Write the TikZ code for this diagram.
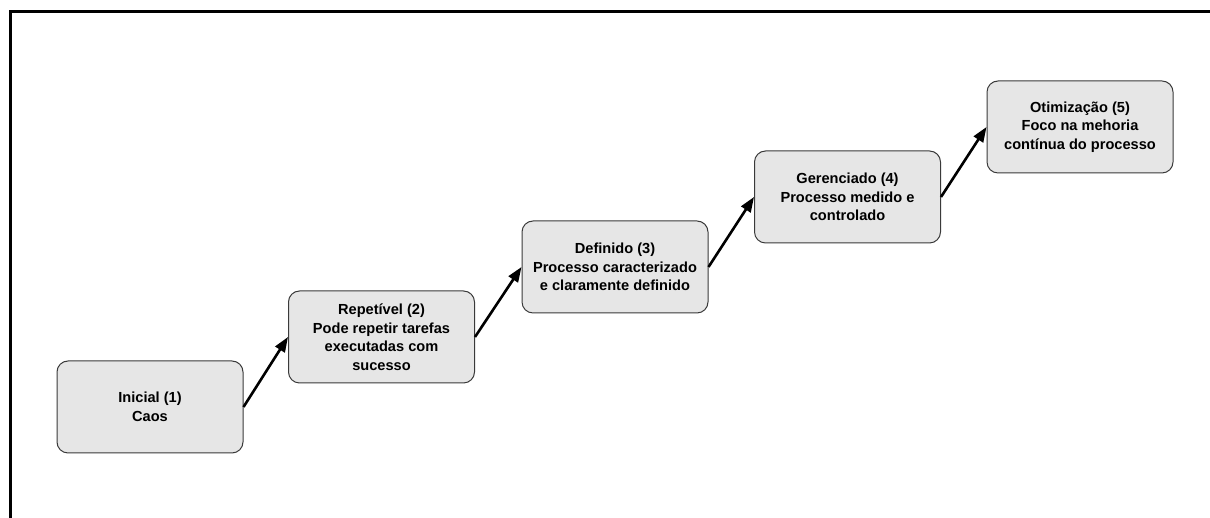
\documentclass[tikz,border=0pt]{standalone}
\usepackage{fontspec}
\setmainfont{Liberation Sans}
\usetikzlibrary{arrows.meta}
\definecolor{boxfill}{HTML}{E6E6E6}
\definecolor{boxline}{HTML}{3A3A3A}
\begin{document}
\begin{tikzpicture}[x=1pt,y=1pt,
  level/.style={draw=boxline, line width=1pt, fill=boxfill, rounded corners=11pt,
    minimum width=186pt, minimum height=92pt, inner sep=2pt,
    align=center, font=\fontsize{14.6}{18.5}\selectfont\bfseries},
  stair/.style={line width=2.6pt, -{Triangle[length=15pt,width=11pt]}}]
  \useasboundingbox (0,0) rectangle (1210,518);
  % frame along the top and left
  \draw[line width=3pt] (10,0) -- (10,506) -- (1210,506);
  % maturity levels
  \node[level] (l1) at (150,111)    {Inicial (1)\\Caos};
  \node[level] (l2) at (381.5,181)  {Repetível (2)\\Pode repetir tarefas\\executadas com\\sucesso};
  \node[level] (l3) at (615,251)    {Definido (3)\\Processo caracterizado\\e claramente definido};
  \node[level] (l4) at (847.5,321)  {Gerenciado (4)\\Processo medido e\\controlado};
  \node[level] (l5) at (1080,391)   {Otimização (5)\\Foco na mehoria\\contínua do processo};
  % steps between levels
  \draw[stair] (l1.east) -- (l2.west);
  \draw[stair] (l2.east) -- (l3.west);
  \draw[stair] (l3.east) -- (l4.west);
  \draw[stair] (l4.east) -- (l5.west);
\end{tikzpicture}
\end{document}
